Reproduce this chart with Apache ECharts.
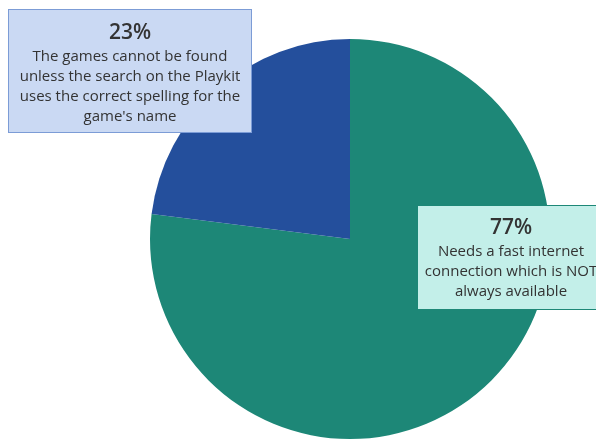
<!DOCTYPE html>
<html><head><meta charset="utf-8">
<script src="https://cdn.jsdelivr.net/npm/echarts@6/dist/echarts.min.js"></script>
<style>html,body{margin:0;padding:0;background:#fff}#c{width:596px;height:439px}</style>
</head><body><div id="c"></div>
<script>
const categories = ["Needs a fast internet connection which is NOT always available", "The games cannot be found unless the search on the Playkit uses the correct spelling for the game's name"];
const values = [77, 23];
const pctLabels = ["77%", "23%"];
const labelLines = [
  ["Needs a fast internet", "connection which is NOT", "always available"],
  ["The games cannot be found", "unless the search on the Playkit", "uses the correct spelling for the", "game's name"]
];
const colors = ["#1d8777", "#244f9c"];

const chart = echarts.init(document.getElementById('c'));
const boxStyles = [
  {bg: "#c3efe9", border: "#1d8777", x: 511, y: 257.5, w: 174, pad: [8, 6, 7, 6]},
  {bg: "#cad9f3", border: "#7c9cd6", x: 130, y: 71, w: 230, pad: [9, 6, 5, 6]}
];
chart.setOption({
  animation: false,
  series: [{
    type: 'pie',
    center: [350, 239],
    radius: 200,
    startAngle: 90,
    clockwise: true,
    data: categories.map((n, i) => ({
      name: n, value: values[i],
      itemStyle: {color: colors[i]},
      label: {
        show: true,
        formatter: '{pct|' + pctLabels[i] + '}\n' + labelLines[i].map(l => '{body|' + l + '}').join('\n'),
        backgroundColor: boxStyles[i].bg,
        borderColor: boxStyles[i].border,
        borderWidth: 1,
        padding: boxStyles[i].pad,
        width: boxStyles[i].w,
        align: 'center',
        rich: {
          pct: {fontFamily: 'Open Sans', fontSize: 21, fontWeight: 600, color: '#333', lineHeight: 28, align: 'center'},
          body: {fontFamily: 'Open Sans', fontSize: 15, color: '#333', lineHeight: 20, align: 'center'}
        }
      },
      labelLine: {show: false}
    })),
    labelLayout: function (p) {
      const b = boxStyles[p.dataIndex];
      return {x: b.x, y: b.y, align: 'center', verticalAlign: 'middle'};
    },
    emphasis: {disabled: true}
  }]
});
</script></body></html>
